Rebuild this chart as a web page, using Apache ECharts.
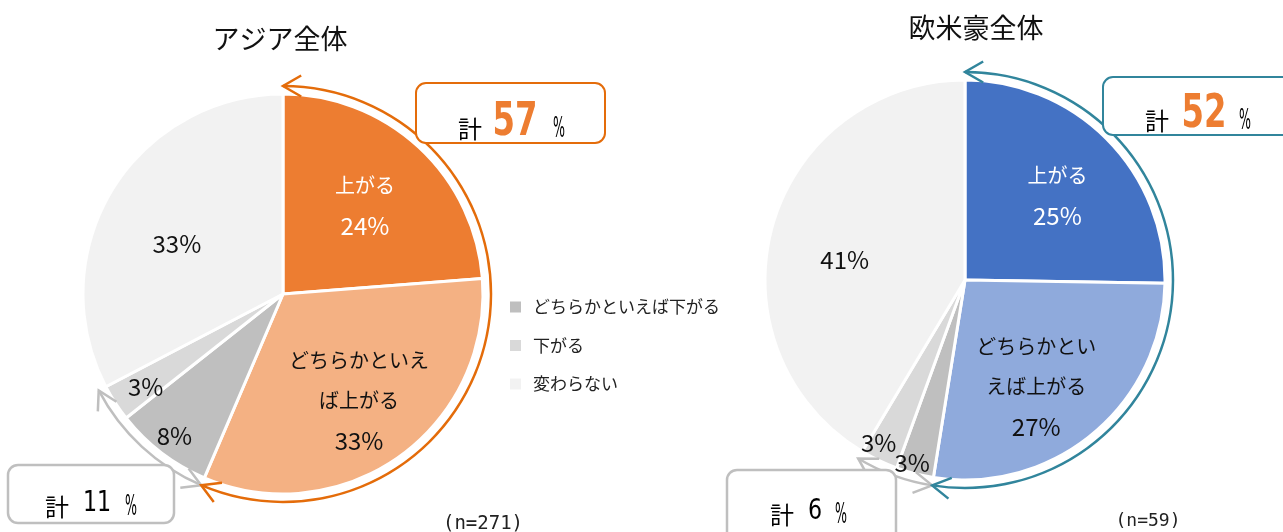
<!DOCTYPE html>
<html>
<head>
<meta charset="utf-8">
<script src="https://cdn.jsdelivr.net/npm/echarts@6/dist/echarts.min.js"></script>
<style>
  html, body { margin: 0; padding: 0; background: #fff; }
  #chart { width: 1283px; height: 532px; }
</style>
</head>
<body>
<div id="chart"></div>
<script>
// data (percent)
const categories = ['上がる', 'どちらかといえば上がる', 'どちらかといえば下がる', '下がる', '変わらない']
const legendItems = ['どちらかといえば下がる', '下がる', '変わらない']
const asiaValues = [24, 33, 8, 3, 33]
const westValues = [25, 27, 3, 3, 41]
const asiaLabelNames = [['上がる'], ['どちらかといえ', 'ば上がる'], [], [], []]
const westLabelNames = [['上がる'], ['どちらかとい', 'えば上がる'], [], [], []]
const titles = ['アジア全体', '欧米豪全体']
const sampleSizes = [271, 59]

const FONT = '"Noto Sans CJK JP", "Noto Sans", sans-serif'
const NARROW = '"DejaVu Sans Condensed", "DejaVu Sans", sans-serif'
const MONO = '"DejaVu Sans Mono", "Liberation Mono", monospace'
const GREYS = ['#BFBFBF', '#D9D9D9', '#F2F2F2']
const asiaColors = ['#ED7D31', '#F4B183'].concat(GREYS)
const westColors = ['#4472C4', '#8FAADC'].concat(GREYS)

const R = 200
const ARC_R = 208
const pies = [
  { cx: 283, cy: 294, values: asiaValues, names: asiaLabelNames, colors: asiaColors, accent: '#E46C0A',
    // label nudges (px) so they sit like the original
    nudge: [[12, -13], [16, 23], [-46, 60], [-51, 37], [-18, 3]] },
  { cx: 965, cy: 280, values: westValues, names: westLabelNames, colors: westColors, accent: '#31859C',
    nudge: [[19, -12], [5, 28], [-27, 83], [-42, 70], [-21, 7]] }
]

function sum(arr) { return arr.reduce((a, b) => a + b, 0) }

function pointAt(p, r, frac) {
  const a = frac * Math.PI * 2
  return [p.cx + r * Math.sin(a), p.cy - r * Math.cos(a)]
}

// chevron at a point on the ring, pointing clockwise (dir=1) or counter-clockwise (dir=-1)
function chevron(p, frac, dir, color) {
  const a = frac * Math.PI * 2
  const tip = pointAt(p, ARC_R, frac)
  const bx = -Math.cos(a) * dir
  const by = -Math.sin(a) * dir
  const L = 21
  const h = Math.PI / 6
  const rot = (t) => [bx * Math.cos(t) - by * Math.sin(t), bx * Math.sin(t) + by * Math.cos(t)]
  const p1 = rot(h)
  const p2 = rot(-h)
  return {
    type: 'polyline', z: 60, silent: true,
    shape: { points: [[tip[0] + L * p1[0], tip[1] + L * p1[1]], tip, [tip[0] + L * p2[0], tip[1] + L * p2[1]]] },
    style: { stroke: color, lineWidth: 2.5, fill: null }
  }
}

function box(x, y, w, h, color, lw) {
  return {
    type: 'rect', z: 70, silent: true,
    shape: { x: x, y: y, width: w, height: h, r: 10 },
    style: { fill: '#fff', stroke: color, lineWidth: lw }
  }
}

function word(text, x, y, size, opts) {
  opts = opts || {}
  return {
    type: 'text', z: 80, silent: true, x: x, y: y,
    scaleX: opts.sx || 1, originX: 0, originY: 0,
    style: {
      text: String(text),
      fontFamily: opts.family || FONT,
      fontSize: size,
      fontWeight: opts.bold ? 'bold' : 'normal',
      fill: opts.color || '#000',
      align: 'center',
      verticalAlign: 'middle'
    }
  }
}

// "計 NN %" callout: kx/nx/px are the centres of the three pieces
function callout(total, kx, nx, px, y, big) {
  return [
    word('計', kx, y + 6, 24),
    big
      ? word(total, nx, y, 46, { family: NARROW, bold: true, color: '#ED7D31', sx: 0.78 })
      : word(total, nx, y + 2, 29, { family: NARROW, sx: 0.85 }),
    word('%', px, y + 7, 28, { family: NARROW, sx: 0.5 })
  ]
}

const series = []
const graphics = []

pies.forEach((p, si) => {
  const total = sum(p.values)
  series.push({
    type: 'pie',
    name: titles[si],
    center: [p.cx, p.cy],
    radius: [0, R],
    startAngle: 90,
    clockwise: true,
    avoidLabelOverlap: false,
    emphasis: { disabled: true },
    itemStyle: { borderColor: '#fff', borderWidth: 3 },
    label: {
      show: true,
      position: 'inside',
      fontFamily: FONT,
      color: '#111',
      formatter: (d) => {
        const lines = p.names[d.dataIndex].map((s) => '{n|' + s + '}')
        lines.push('{v|' + d.value + '%}')
        return lines.join('\n')
      },
      rich: {
        n: { fontFamily: FONT, fontSize: 20, lineHeight: 40 },
        v: { fontFamily: FONT, fontSize: 24, lineHeight: 40 }
      }
    },
    labelLine: { show: false },
    labelLayout: (params) => {
      const n = p.nudge[params.dataIndex]
      return { dx: n[0], dy: n[1] }
    },
    data: categories.map((c, i) => ({
      name: c,
      value: p.values[i],
      itemStyle: { color: p.colors[i] },
      label: i === 0 ? { color: '#fff' } : undefined
    }))
  })

  // outer bracket rings: "上がる" side and "下がる" side
  const upTotal = p.values[0] + p.values[1]
  const downTotal = p.values[2] + p.values[3]
  const rest = p.values[4]
  series.push({
    type: 'pie',
    center: [p.cx, p.cy],
    radius: [ARC_R - 1.25, ARC_R + 1.25],
    startAngle: 90,
    clockwise: true,
    silent: true,
    label: { show: false },
    labelLine: { show: false },
    emphasis: { disabled: true },
    itemStyle: { borderWidth: 0 },
    data: [
      { name: 'up-total', value: upTotal, itemStyle: { color: p.accent } },
      { name: 'down-total', value: downTotal, itemStyle: { color: '#BFBFBF' } },
      { name: 'rest', value: rest, itemStyle: { color: 'rgba(0,0,0,0)' } }
    ]
  })

  const fUp = upTotal / total
  const fDown = (upTotal + downTotal) / total
  graphics.push(chevron(p, 0, -1, p.accent))
  graphics.push(chevron(p, fUp, -1, '#BFBFBF'))
  graphics.push(chevron(p, fUp, 1, p.accent))
  graphics.push(chevron(p, fDown, 1, '#BFBFBF'))
})

// callout boxes
const asiaUp = asiaValues[0] + asiaValues[1]
const asiaDown = asiaValues[2] + asiaValues[3]
const westUp = westValues[0] + westValues[1]
const westDown = westValues[2] + westValues[3]

graphics.push(box(416, 83, 189, 60, '#E46C0A', 2))
graphics.push(...callout(asiaUp, 470, 515, 559, 123, true))
graphics.push(box(8, 465, 166, 58, '#BFBFBF', 2.5))
graphics.push(...callout(asiaDown, 57, 97, 131, 501, false))
graphics.push(box(1103, 77, 200, 58, '#31859C', 2))
graphics.push(...callout(westUp, 1157, 1204, 1245, 115, true))
graphics.push(box(727, 470, 169, 72, '#BFBFBF', 2.5))
graphics.push(...callout(westDown, 782, 815, 841, 509, false))

// sample sizes
graphics.push(word('(n=' + sampleSizes[0] + ')', 483, 524, 19, { family: MONO, color: '#222' }))
graphics.push(word('(n=' + sampleSizes[1] + ')', 1148, 521, 18, { family: MONO, color: '#222' }))

const chart = echarts.init(document.getElementById('chart'), null, { renderer: 'canvas' })
chart.setOption({
  backgroundColor: '#fff',
  animation: false,
  title: [
    { text: titles[0], left: 275, top: 20, textAlign: 'center', textStyle: { fontFamily: FONT, fontSize: 27, fontWeight: 'normal', color: '#111' } },
    { text: titles[1], left: 971, top: 9, textAlign: 'center', textStyle: { fontFamily: FONT, fontSize: 27, fontWeight: 'normal', color: '#111' } }
  ],
  legend: {
    data: legendItems,
    orient: 'vertical',
    left: 505,
    top: 292,
    icon: 'rect',
    itemWidth: 11,
    itemHeight: 11,
    itemGap: 18.5,
    selectedMode: false,
    itemStyle: { borderWidth: 0 },
    textStyle: { fontFamily: FONT, fontSize: 17, lineHeight: 20, color: '#222', padding: [0, 0, 0, 7] }
  },
  graphic: graphics,
  series: series
})
</script>
</body>
</html>
